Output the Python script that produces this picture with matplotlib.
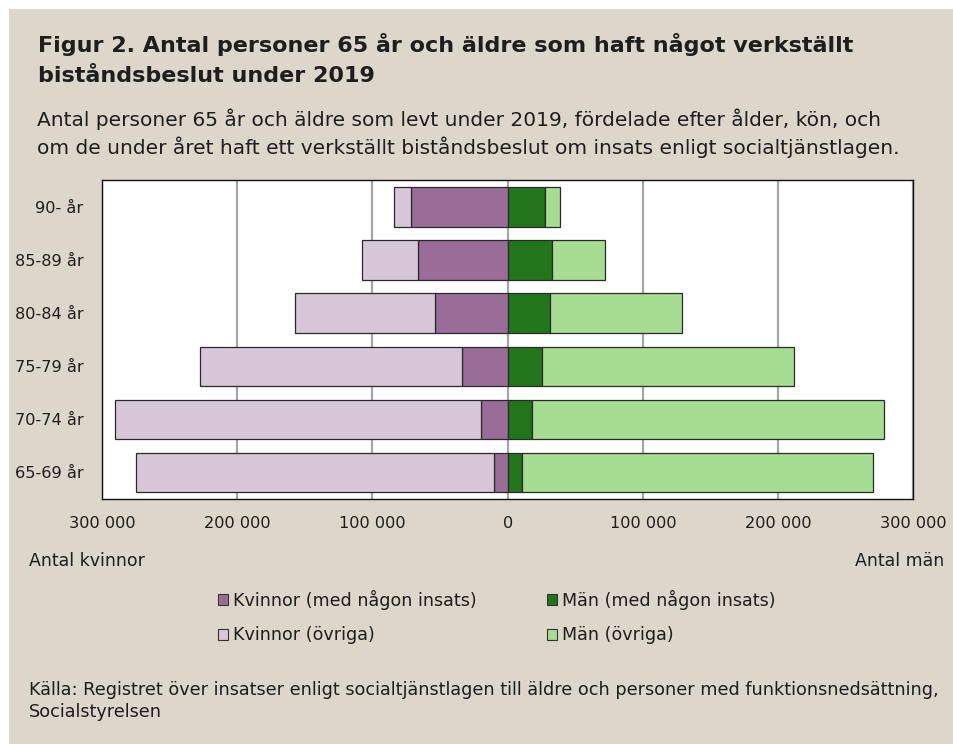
import matplotlib
matplotlib.use("Agg")
import matplotlib.pyplot as plt
from matplotlib.patches import Patch, Rectangle

# Data (antal personer)
categories = ["65-69 år", "70-74 år", "75-79 år", "80-84 år", "85-89 år", "90- år"]
kvinnor_insats = [9800, 20000, 34000, 53700, 66500, 71700]
kvinnor_ovriga = [264900, 270500, 193600, 103700, 41400, 12600]
man_insats = [10300, 18000, 25400, 31600, 32800, 27600]
man_ovriga = [260200, 260600, 186700, 97700, 39200, 11400]
xticks = [-300000, -200000, -100000, 0, 100000, 200000, 300000]
xticklabels = ["300 000", "200 000", "100 000", "0", "100 000", "200 000", "300 000"]
legend_labels = ["Kvinnor (med någon insats)", "Kvinnor (övriga)",
                 "Män (med någon insats)", "Män (övriga)"]

c_k_ins = "#9a6d99"
c_k_ovr = "#d7c6d7"
c_m_ins = "#23751c"
c_m_ovr = "#a6dd93"
bg = "#dcd6cb"
txt = "#1e1e1e"

plt.rcParams['font.family'] = ['DejaVu Sans']

W, H = 954, 744
fig = plt.figure(figsize=(W / 100, H / 100), dpi=100)
fig.patch.set_facecolor("white")
fig.patches.append(Rectangle((9 / W, 0), 1 - 9 / W, 1 - 9 / H, transform=fig.transFigure,
                             facecolor=bg, edgecolor="none", zorder=-10))
renderer = fig.canvas.get_renderer()


def fit_size(s, target_px, weight="normal"):
    t = fig.text(0, 0, s, fontsize=10, fontweight=weight)
    w = t.get_window_extent(renderer).width
    t.remove()
    return 10 * target_px / w


ax = fig.add_axes([102 / W, 1 - 499 / H, (913.3 - 102) / W, (499 - 180.3) / H])
ax.set_facecolor("white")
y = list(range(len(categories)))
h = 0.74
ec = "#2a2a2a"
lw = 0.9
neg_ins = [-v for v in kvinnor_insats]
neg_ovr = [-v for v in kvinnor_ovriga]
ax.barh(y, neg_ins, height=h, color=c_k_ins, edgecolor=ec, linewidth=lw, zorder=3)
ax.barh(y, neg_ovr, left=neg_ins, height=h, color=c_k_ovr, edgecolor=ec, linewidth=lw, zorder=3)
ax.barh(y, man_insats, height=h, color=c_m_ins, edgecolor=ec, linewidth=lw, zorder=3)
ax.barh(y, man_ovriga, left=man_insats, height=h, color=c_m_ovr, edgecolor=ec, linewidth=lw, zorder=3)

tick_fs = fit_size("300 000", 66)
ax.set_xlim(-300000, 300000)
ax.set_ylim(-0.5, len(categories) - 0.5)
ax.set_xticks(xticks)
ax.set_xticklabels(xticklabels)
ax.set_yticks(y)
ax.set_yticklabels(categories)
ax.tick_params(length=0, labelsize=tick_fs, colors=txt)
ax.tick_params(axis='x', pad=12)
ax.tick_params(axis='y', pad=13.5)
ax.grid(axis='x', color="#a6a6a6", linewidth=1.6, zorder=0)
for s in ax.spines.values():
    s.set_color("#111111")
    s.set_linewidth(1.0)

# Titles
title1 = "Figur 2. Antal personer 65 år och äldre som haft något verkställt"
title_fs = fit_size(title1, 817, "bold")
fig.text(38 / W, 1 - 45 / H, title1, fontsize=title_fs, fontweight="bold",
         va="center", ha="left", color=txt)
fig.text(38 / W, 1 - 76 / H, "biståndsbeslut under 2019", fontsize=title_fs, fontweight="bold",
         va="center", ha="left", color=txt)
sub2 = "om de under året haft ett verkställt biståndsbeslut om insats enligt socialtjänstlagen."
sub_fs = fit_size(sub2, 860)
fig.text(37 / W, 1 - 119 / H,
         "Antal personer 65 år och äldre som levt under 2019, fördelade efter ålder, kön, och",
         fontsize=sub_fs, va="center", ha="left", color=txt)
fig.text(37 / W, 1 - 147 / H, sub2, fontsize=sub_fs, va="center", ha="left", color=txt)

ak_fs = fit_size("Antal kvinnor", 116)
fig.text(29 / W, 1 - 561 / H, "Antal kvinnor", fontsize=ak_fs, va="center", ha="left", color=txt)
fig.text(944 / W, 1 - 561 / H, "Antal män", fontsize=ak_fs, va="center", ha="right", color=txt)

leg_fs = fit_size(legend_labels[0], 243)
colors = [c_k_ins, c_k_ovr, c_m_ins, c_m_ovr]
handles = [Patch(facecolor=c, edgecolor="#333333", linewidth=0.8, label=l)
           for c, l in zip(colors, legend_labels)]
fs_px = leg_fs * 100 / 72
for i, xl in enumerate([218, 547]):
    lg = fig.legend(handles=handles[2 * i:2 * i + 2], loc="center left",
                    bbox_to_anchor=(xl / W, 1 - 617 / H), frameon=False, fontsize=leg_fs,
                    handlelength=10 / fs_px, handleheight=10 / fs_px, handletextpad=5 / fs_px,
                    labelspacing=(36 - 1.1 * fs_px) / fs_px, borderaxespad=0, borderpad=0)
    for t in lg.get_texts():
        t.set_color(txt)

src1 = "Källa: Registret över insatser enligt socialtjänstlagen till äldre och personer med funktionsnedsättning,"
src_fs = fit_size(src1, 905)
fig.text(29 / W, 1 - 690 / H, src1, fontsize=src_fs, va="center", ha="left", color=txt)
fig.text(29 / W, 1 - 712 / H, "Socialstyrelsen", fontsize=src_fs, va="center", ha="left", color=txt)

fig.savefig("out.png", dpi=100, facecolor=fig.get_facecolor())
